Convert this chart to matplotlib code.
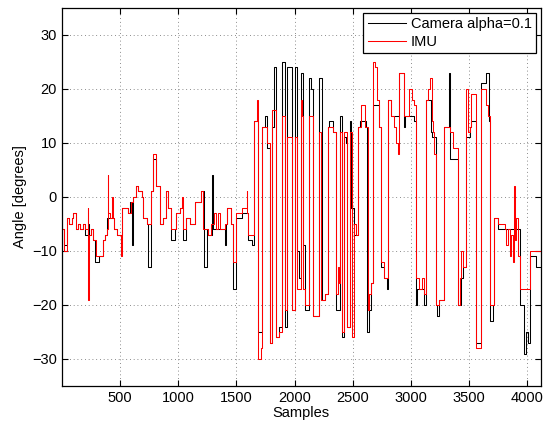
import matplotlib
matplotlib.use("Agg")
from matplotlib import pyplot as plt

plt.rcParams["font.family"] = ["Liberation Sans", "DejaVu Sans"]

# step breakpoints: sample index where a new angle starts, angle in degrees
imu_samples = [
    0, 23, 43, 63, 86, 100, 120, 143, 158, 178, 200, 223, 229, 235, 252, 272,
    292, 358, 372, 390, 395, 401, 415, 430, 438, 452, 473, 493, 510, 521, 550,
    573, 596, 616, 636, 659, 687, 702, 730, 768, 785, 808, 842, 871, 899, 914,
    942, 979, 1014, 1031, 1042, 1071, 1100, 1143, 1200, 1214, 1257, 1286, 1306,
    1329, 1343, 1357, 1400, 1420, 1458, 1472, 1495, 1552, 1590, 1595, 1604,
    1653, 1675, 1690, 1710, 1718, 1767, 1790, 1810, 1844, 1867, 1890, 1896,
    1919, 1939, 1982, 2005, 2025, 2053, 2068, 2074, 2088, 2125, 2160, 2208,
    2231, 2260, 2288, 2331, 2354, 2374, 2383, 2389, 2412, 2426, 2452, 2475,
    2495, 2512, 2526, 2546, 2575, 2603, 2632, 2641, 2655, 2675, 2692, 2712,
    2727, 2741, 2770, 2807, 2827, 2855, 2875, 2893, 2898, 2941, 2984, 3007,
    3027, 3042, 3070, 3093, 3113, 3127, 3150, 3165, 3179, 3191, 3199, 3213,
    3242, 3285, 3340, 3363, 3406, 3420, 3434, 3448, 3471, 3477, 3491, 3506,
    3520, 3557, 3606, 3649, 3663, 3678, 3712, 3749, 3806, 3821, 3835, 3849,
    3864, 3878, 3884, 3892, 3907, 3921, 3935, 4021, 4118,
]
imu_angle = [
    -6, -10, -4, -5, -4, -3, -6, -5, -6, -5, -6, -2, -19, -7, -6, -8,
    -11, -8, -7, -6, 4, -3, -4, 0, -4, -6, -7, -7, -11, -2, -2,
    -3, -1, 0, 2, 1, 0, -4, -5, 1, 8, 2, -5, -4, 1, -2,
    -6, -3, -2, 0, -6, -4, -5, -1, 1, -6, -7, -5, -3,
    -6, -3, -6, -5, -2, -5, -12, -3, -2, 1, -3, -7,
    14, 18, -30, -28, 13, 10, -27, 16, -26, -25, -23, 15,
    -21, 11, -21, 11, -17, 18, 15, -17, -20, 15, -22, 12,
    -19, -18, 13, 12, -18, -13, -16, 12, -25, 12, -24, 12,
    -26, -5, -7, 13, 17, 13, -21, -18, -16, 25, 24, 18,
    13, -12, -15, 18, 15, 13, 10, 8, 23, 15, 20, 18,
    17, -15, -17, -15, -18, 18, 20, 22, 14, 12, 8, -20,
    -19, 13, 12, 9, -20, -15, -10, -13, 12, 20, 12, 13,
    19, -28, 20, 17, 15, -20, -4, -5, -6, -9, -6, -11,
    -7, -12, 2, -8, -4, -11, -17, -10, -10,
]

camera_samples = [
    0, 23, 43, 63, 86, 100, 120, 143, 158, 178, 200, 223, 235, 252, 272,
    286, 318, 358, 372, 390, 401, 415, 438, 452, 473, 510, 521, 550,
    573, 587, 605, 616, 636, 659, 687, 702, 730, 745, 768, 785, 808, 842,
    871, 899, 914, 942, 971, 979, 1014, 1042, 1071, 1100, 1143, 1200, 1220,
    1249, 1257, 1292, 1300, 1329, 1357, 1400, 1414, 1420, 1458, 1472, 1495,
    1552, 1604, 1638, 1653, 1690, 1718, 1747, 1767, 1790, 1804, 1824, 1844,
    1867, 1896, 1919, 1939, 1982, 2005, 2025, 2039, 2053, 2074, 2088, 2125,
    2145, 2160, 2208, 2240, 2260, 2288, 2297, 2331, 2354, 2389, 2394, 2412,
    2426, 2440, 2452, 2475, 2489, 2512, 2546, 2560, 2618, 2626, 2641, 2655,
    2675, 2727, 2741, 2770, 2798, 2807, 2827, 2898, 2941, 2950, 3027, 3042,
    3056, 3113, 3127, 3171, 3185, 3213, 3228, 3242, 3285, 3328, 3340, 3406,
    3434, 3448, 3471, 3506, 3520, 3557, 3606, 3649, 3672, 3678, 3706, 3712,
    3749, 3935, 3973, 3987, 4007, 4027, 4079, 4118,
]
camera_angle = [
    -6, -9, -4, -5, -4, -3, -6, -5, -6, -5, -7, -5, -7, -6, -8,
    -12, -11, -8, -7, -4, -4, -4, -4, -6, -7, -7, -2, -2,
    -3, -1, -9, 0, 2, 1, 0, -4, -5, -13, 1, 7, 2, -5,
    -4, 1, -2, -8, -6, -3, -2, -8, -4, -5, -1, 1, -13,
    -6, -7, 4, -6, -6, -6, -9, -5, -2, -5, -17, -4,
    -3, -8, -9, 14, -25, 13, 15, 9, -27, 13, 24, -26,
    -24, 25, -24, 24, -21, 24, -10, -15, 23, -9, -21, 22,
    20, -22, 22, -19, -18, 13, 14, 12, -21, 12, 15, -26,
    11, 10, -24, 14, -2, -7, 13, 14, 13, -25, -21, -16,
    17, 13, -13, -15, -17, 18, 15, 23, 13, 15, 14, -20,
    -17, -20, 18, 12, 11, -20, -22, -19, 13, 23, 7, -20,
    -15, -13, 11, 13, 14, -27, 21, 23, 14, -23, -20, -4,
    -6, -20, -29, -25, -27, -11, -13, -13,
]

fig = plt.figure(figsize=(5.43, 4.23), dpi=100)
ax = fig.add_axes([0.1138, 0.0875, 0.8825, 0.8943])

ax.plot(camera_samples, camera_angle, drawstyle="steps-post",
        color="black", linewidth=0.75, label="Camera alpha=0.1")
ax.plot(imu_samples, imu_angle, drawstyle="steps-post",
        color="red", linewidth=0.75, label="IMU")

ax.set_xlim(0, 4118)
ax.set_ylim(-35, 35)
ax.set_xticks([500, 1000, 1500, 2000, 2500, 3000, 3500, 4000])
ax.set_yticks([-30, -20, -10, 0, 10, 20, 30])
ax.tick_params(direction="in", top=True, right=True, length=4,
               width=0.8, labelsize=10.5, colors="black")
ax.grid(True, color="0.4", linestyle=(0, (1, 3.5)), linewidth=0.6)
for spine in ax.spines.values():
    spine.set_linewidth(0.9)

ax.set_xlabel("Samples", fontsize=10.5, labelpad=1)
ax.set_ylabel("Angle [degrees]", fontsize=10.5, labelpad=4)

leg = ax.legend(loc="upper right", bbox_to_anchor=(0.99, 0.987),
                borderaxespad=0, fontsize=10.5, fancybox=False,
                framealpha=1, edgecolor="black", handlelength=2.6,
                handletextpad=0.35, labelspacing=0.25, borderpad=0.3)
leg.get_frame().set_linewidth(0.9)

fig.savefig("out.png", dpi=100)
